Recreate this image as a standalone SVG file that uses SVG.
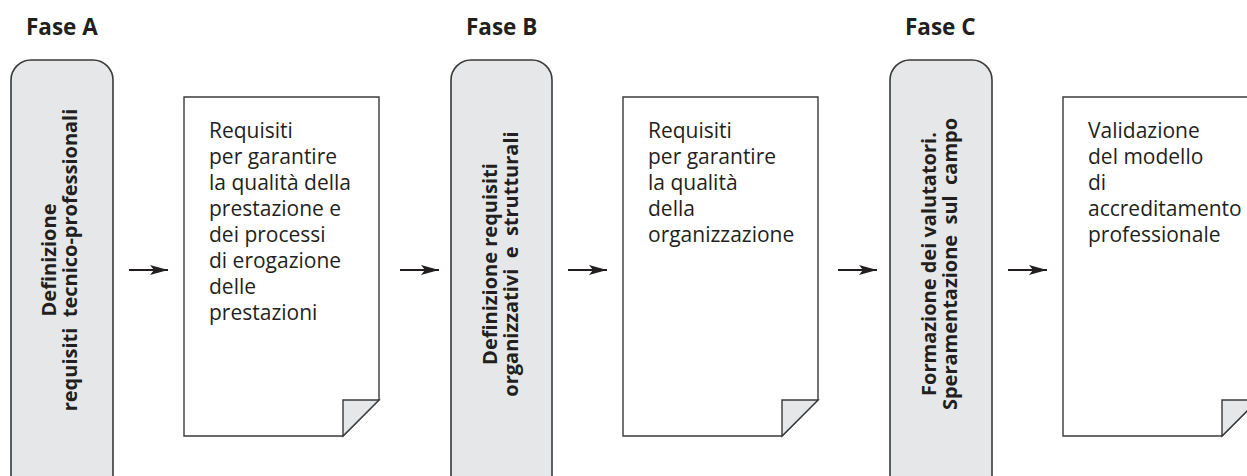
<svg xmlns="http://www.w3.org/2000/svg" width="1247" height="476" viewBox="0 0 1247 476">
<defs>
<style>
.phase{font-family:"Open Sans","Liberation Sans",sans-serif;font-weight:bold;font-size:22.5px;fill:#231f20}
.box{fill:#e6e7e8;stroke:#3a3a3a;stroke-width:1.6}
.vt{font-family:"Open Sans","Liberation Sans",sans-serif;font-weight:bold;font-size:20px;fill:#231f20;text-anchor:middle}
.doc{fill:#fff;stroke:#3a3a3a;stroke-width:1.4}
.fold{fill:#e6e7e8;stroke:#3a3a3a;stroke-width:1.4;stroke-linejoin:miter}
.dt{font-family:"Open Sans","Liberation Sans",sans-serif;font-size:21px;fill:#231f20}
.arr{stroke:#231f20;stroke-width:2;fill:none;marker-end:url(#ah)}
</style>
<marker id="ah" markerUnits="userSpaceOnUse" markerWidth="20" markerHeight="12" refX="18" refY="6" orient="auto">
<path d="M0,1 L18,6 L0,11 L4,6 z" fill="#231f20"/>
</marker>
</defs>
<g id="phase-labels">
<text class="phase" x="26" y="35">Fase A</text>
<text class="phase" x="466" y="35">Fase B</text>
<text class="phase" x="905" y="35">Fase C</text>
</g>
<g id="box-a">
<rect class="box" x="11" y="60" width="102" height="450" rx="20"/>
<text class="vt" transform="translate(56,260) rotate(-90)">Definizione</text>
<text class="vt" transform="translate(77,260) rotate(-90)" xml:space="preserve">requisiti  tecnico-professionali</text>
</g>
<g id="doc-a">
<path class="doc" d="M184,97 H379 V400 L343,436 H184 Z"/>
<path class="fold" d="M343,436 V400 H379 Z"/>
<text class="dt" x="209" y="138">Requisiti</text>
<text class="dt" x="209" y="164">per garantire</text>
<text class="dt" x="209" y="190">la qualità della</text>
<text class="dt" x="209" y="216">prestazione e</text>
<text class="dt" x="209" y="242">dei processi</text>
<text class="dt" x="209" y="268">di erogazione</text>
<text class="dt" x="209" y="294">delle</text>
<text class="dt" x="209" y="320">prestazioni</text>
</g>
<g id="box-b">
<rect class="box" x="451" y="60" width="101" height="450" rx="20"/>
<text class="vt" transform="translate(497,264) rotate(-90)">Definizione requisiti</text>
<text class="vt" transform="translate(518,264) rotate(-90)" xml:space="preserve">organizzativi  e  strutturali</text>
</g>
<g id="doc-b">
<path class="doc" d="M623,97 H818 V400 L782,436 H623 Z"/>
<path class="fold" d="M782,436 V400 H818 Z"/>
<text class="dt" x="648" y="138">Requisiti</text>
<text class="dt" x="648" y="164">per garantire</text>
<text class="dt" x="648" y="190">la qualità</text>
<text class="dt" x="648" y="216">della</text>
<text class="dt" x="648" y="242">organizzazione</text>
</g>
<g id="box-c">
<rect class="box" x="890" y="60" width="102" height="450" rx="20"/>
<text class="vt" transform="translate(936,264) rotate(-90)">Formazione dei valutatori.</text>
<text class="vt" transform="translate(957,264) rotate(-90)" xml:space="preserve">Speramentazione  sul  campo</text>
</g>
<g id="doc-c">
<path class="doc" d="M1063,97 H1258 V400 L1222,436 H1063 Z"/>
<path class="fold" d="M1222,436 V400 H1258 Z"/>
<text class="dt" x="1088" y="138">Validazione</text>
<text class="dt" x="1088" y="164">del modello</text>
<text class="dt" x="1088" y="190">di</text>
<text class="dt" x="1088" y="216">accreditamento</text>
<text class="dt" x="1088" y="242">professionale</text>
</g>
<g id="connectors">
<line class="arr" x1="129" y1="270" x2="168" y2="270"/>
<line class="arr" x1="400" y1="270" x2="439" y2="270"/>
<line class="arr" x1="568" y1="270" x2="607" y2="270"/>
<line class="arr" x1="838" y1="270" x2="877" y2="270"/>
<line class="arr" x1="1008" y1="270" x2="1047" y2="270"/>
</g>
</svg>
